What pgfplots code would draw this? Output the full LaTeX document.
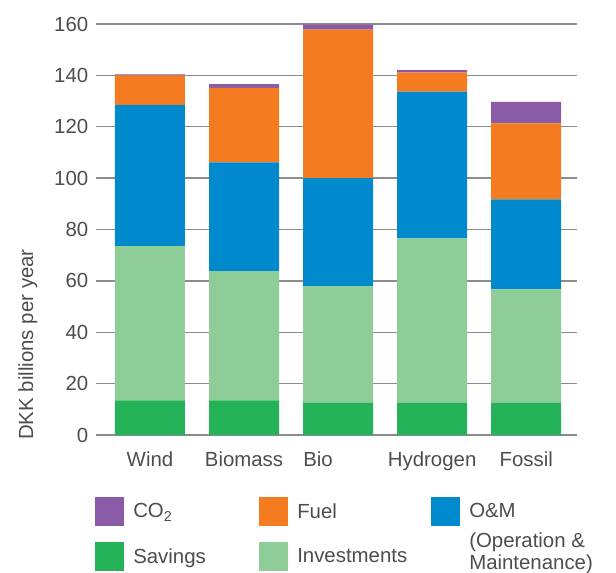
\documentclass[border=0pt]{standalone}
\usepackage{pgfplots}
\pgfplotsset{compat=1.18}
\usepackage{pgfplotstable}
\usepackage{fontspec}
\setmainfont{Liberation Sans}

\definecolor{cco}{HTML}{8A5BA6}
\definecolor{cfuel}{HTML}{F47B20}
\definecolor{com}{HTML}{0089CC}
\definecolor{csav}{HTML}{25B35A}
\definecolor{cinv}{HTML}{8ECC98}
\definecolor{txt}{HTML}{4D4D4D}
\definecolor{gridc}{HTML}{8C8C8C}

\newcommand\lbl{\fontsize{15.3}{16.5}\selectfont}

\pgfplotsset{
  sq/.style={legend image code/.code={\fill[##1] (0pt,-10.9pt) rectangle (21.75pt,10.9pt);}},
}

% cost per technology, stacked from the bottom
\pgfplotstableread{
x savings invest om   fuel co2
0 13.5    60.0   55.0 11.5 0.4
1 13.5    50.3   42.3 29.0 1.5
2 12.5    45.5   42.0 57.8 2.0
3 12.5    64.0   57.2 7.5  0.8
4 12.5    44.2   35.0 29.6 8.4
}\costs

\begin{document}
\begin{tikzpicture}
\begin{axis}[
  name=ax,
  scale only axis,
  width=360.75pt, height=308.25pt,
  ybar stacked, bar width=52.5pt,
  xmin=-0.574, xmax=4.54,
  ymin=0, ymax=160,
  ytick={0,20,...,160},
  xtick=data,
  xticklabels={Wind,Biomass,Bio\hspace*{30pt},Hydrogen,Fossil},
  axis line style={draw=none},
  tick style={draw=none},
  ymajorgrids,
  major grid style={draw=gridc, line width=1.1pt},
  /pgf/number format/assume math mode=true,
  tick label style={font=\lbl, text=txt},
  yticklabel style={anchor=east, inner sep=0pt, xshift=-5.6pt},
  xticklabel style={anchor=base, inner sep=0pt, yshift=-23.25pt},
  ylabel={DKK billions per year},
  % label is turned by 90 degrees, so its shifts are turned too
  ylabel style={at={(rel axis cs:0,0)}, anchor=north west, inner sep=0pt,
    xshift=-3.75pt, yshift=58.5pt, font=\lbl, text=txt},
  legend style={at={(rel axis cs:0,0)}, anchor=north west,
    yshift=-46.5pt, xshift=-0.75pt, draw=none, fill=none, inner sep=0pt,
    legend columns=3, font=\lbl, text=txt, row sep=12pt,
    nodes={inner sep=0pt, anchor=west},
    /tikz/every odd column/.append style={column sep=6.75pt}},
]
\addlegendimage{sq, fill=cco, draw=none}
\addlegendimage{sq, fill=cfuel, draw=none}
\addlegendimage{sq, fill=com, draw=none}
\addlegendimage{sq, fill=csav, draw=none}
\addlegendimage{sq, fill=cinv, draw=none}
\addlegendimage{empty legend}

\addplot[fill=csav, draw=none] table[x=x, y=savings] {\costs};
\addplot[fill=cinv, draw=none] table[x=x, y=invest] {\costs};
\addplot[fill=com, draw=none] table[x=x, y=om] {\costs};
\addplot[fill=cfuel, draw=none] table[x=x, y=fuel] {\costs};
\addplot[fill=cco, draw=none] table[x=x, y=co2] {\costs};

\legend{\makebox[94.5pt][l]{CO\textsubscript{2}},
  \makebox[100.5pt][l]{Fuel},
  O\&M,
  \makebox[94.5pt][l]{Savings},
  \makebox[100.5pt][l]{Investments},
  {\raisebox{-2.25pt}[0pt][0pt]{\begin{tabular}{@{}l@{}}(Operation \&\\Maintenance)\end{tabular}}}}
\end{axis}
\pgfresetboundingbox
\path (ax.south west) ++(-72pt,-102.75pt) rectangle ++(462pt,429pt);
\end{tikzpicture}
\end{document}
